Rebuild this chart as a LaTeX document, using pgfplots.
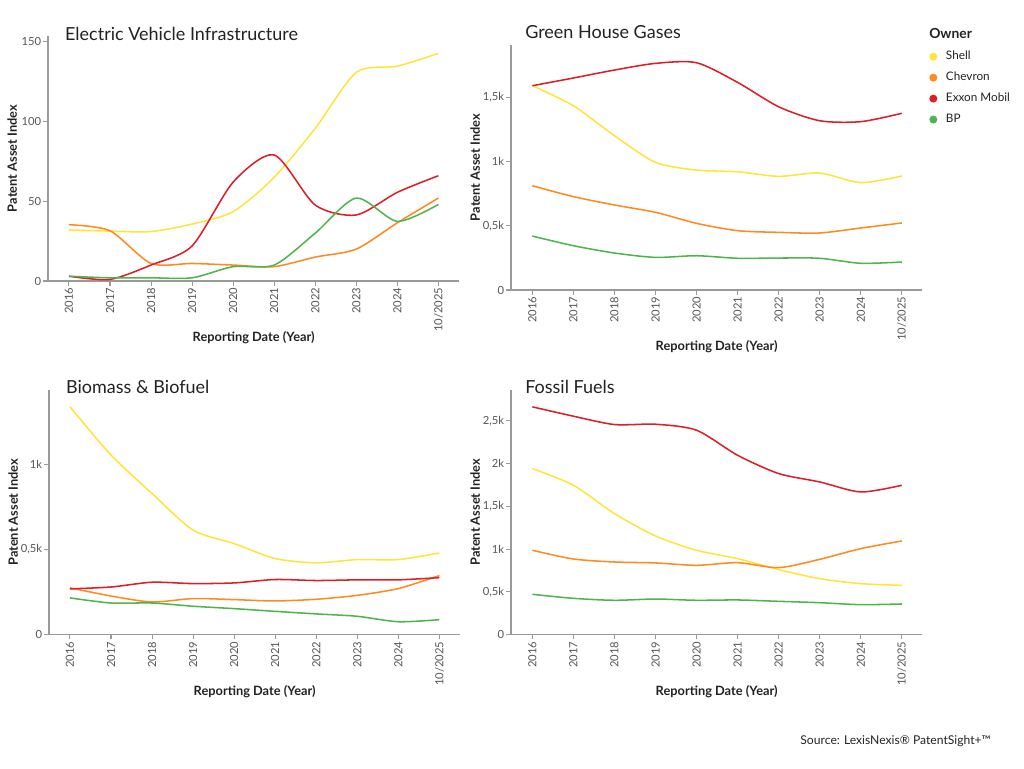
\documentclass[border=0pt]{standalone}
\usepackage{pgfplots}
\usepackage{pgfplotstable}
\pgfplotsset{compat=1.18}
\usepackage{fontspec}
\setmainfont{Lato}
\definecolor{shellc}{HTML}{FFE53B}
\definecolor{chevc}{HTML}{FF8A1E}
\definecolor{exxc}{HTML}{DC1E28}
\definecolor{bpc}{HTML}{4FB34F}
\definecolor{axisgray}{HTML}{9A9A9A}
\definecolor{tickgray}{HTML}{555555}
\definecolor{titlec}{HTML}{222222}

\pgfplotstableread{
x shell chevron exxon bp
0 32 35.3 3 3
1 31.3 31.5 1 2
2 31 11 10 2
3 35.7 11 22 2
4 43.5 10 62 9
5 65 9 79 10
6 95.7 15 47.6 30
7 130.8 20 41.4 52
8 134.7 36.5 55.6 37.4
9 142.7 52 66 48
}\evtab
\pgfplotstableread{
x shell chevron exxon bp
0 1591 812 1591 420
1 1435 727 1651 345
2 1202 662 1713 288
3 994 605 1765 254
4 934 519 1770 267
5 921 462 1617 247
6 885 449 1427 249
7 911 444 1318 247
8 836 483 1311 208
9 888 522 1376 218
}\ghgtab
\pgfplotstableread{
x shell chevron exxon bp
0 1339 275 269 216
1 1055 227 280 186
2 829 192 308 186
3 614 212 300 167
4 535 206 304 153
5 447 198 324 137
6 422 208 318 122
7 441 231 322 108
8 441 271 322 76
9 480 347 335 88
}\biotab
\pgfplotstableread{
x shell chevron exxon bp
0 1942 987 2664 472
1 1747 885 2555 425
2 1416 850 2457 402
3 1154 839 2461 417
4 987 811 2391 402
5 889 842 2098 406
6 761 784 1884 390
7 655 881 1786 374
8 597 1006 1669 351
9 577 1096 1747 359
}\fostab

\pgfplotsset{
  panel/.style={
    scale only axis,
    width=308.5pt, height=183.75pt,
    axis lines*=left,
    axis line style={draw=axisgray, line width=1pt},
    every tick/.style={draw=axisgray, line width=0.8pt},
    tick align=outside, major tick length=3.5pt,
    xmin=-0.51, xmax=9.51, ymin=0,
    xtick={0,...,9},
    xticklabels={2016,2017,2018,2019,2020,2021,2022,2023,2024,10/2025},
    xticklabel style={rotate=90, anchor=east, font=\fontsize{8.4}{9}\selectfont, text=tickgray, inner sep=1.5pt},
    yticklabel style={font=\fontsize{8.4}{9}\selectfont, text=tickgray, inner sep=1.5pt},
    xlabel={Reporting Date (Year)}, ylabel={Patent Asset Index},
    xlabel style={at={(axis description cs:0.5,-0.248)}, anchor=base, font=\fontsize{9.6}{11}\selectfont\bfseries, text=titlec},
    ylabel style={at={(axis description cs:-0.087,0.5)}, anchor=center, font=\fontsize{9.6}{11}\selectfont\bfseries, text=titlec},
    every axis title shift=0pt,
    title style={anchor=base west, yshift=0pt, font=\fontsize{13.5}{16}\selectfont, text=titlec, inner sep=0pt},
    clip=false,
    every axis plot/.append style={smooth, tension=0.45, line width=1.15pt},
  },
}

\begin{document}
\begin{tikzpicture}
\path[use as bounding box] (0,0) rectangle (768pt,-576pt);

% Electric Vehicle Infrastructure
\begin{axis}[panel, at={(36pt,-210.75pt)}, anchor=south west,
  ymax=153.6, ytick={0,50,100,150}, yticklabels={0,50,100,150},
  title={Electric Vehicle Infrastructure},
  title style={at={(axis description cs:0.041,0.981)}}]
\addplot[shellc] table[x=x,y=shell]{\evtab};
\addplot[chevc] table[x=x,y=chevron]{\evtab};
\addplot[exxc] table[x=x,y=exxon]{\evtab};
\addplot[bpc] table[x=x,y=bp]{\evtab};
\end{axis}

% Green House Gases
\begin{axis}[panel, at={(383.25pt,-217.5pt)}, anchor=south west,
  xmin=-0.52, xmax=9.5,
  ymax=1908, ytick={0,500,1000,1500}, yticklabels={0,{0,5k},1k,{1,5k}},
  title={Green House Gases},
  title style={at={(axis description cs:0.034,1.027)}},
  legend style={at={(axis description cs:1.017,0.973)}, anchor=north west, draw=none, fill=none,
    inner sep=0pt, outer sep=0pt, row sep=8pt,
    font=\fontsize{8.8}{10}\selectfont, text=titlec,
    nodes={inner sep=0pt, text height=6.2pt, text depth=1.5pt},
    /tikz/every even column/.append style={column sep=0pt}},
  legend cell align=left,
  legend image code/.code={\path[draw=none,fill=none] (0pt,-3pt) rectangle (12.5pt,3pt); \fill[#1,draw=none] (3pt,0pt) circle (3pt);}]
\addplot[shellc] table[x=x,y=shell]{\ghgtab};
\addlegendentry{Shell}
\addplot[chevc] table[x=x,y=chevron]{\ghgtab};
\addlegendentry{Chevron}
\addplot[exxc] table[x=x,y=exxon]{\ghgtab};
\addlegendentry{Exxon Mobil}
\addplot[bpc] table[x=x,y=bp]{\ghgtab};
\addlegendentry{BP}
\end{axis}

% Biomass & Biofuel
\begin{axis}[panel, at={(36.75pt,-476pt)}, anchor=south west,
  ymax=1439, ytick={0,500,1000}, yticklabels={0,{0,5k},1k},
  title={Biomass \& Biofuel},
  title style={at={(axis description cs:0.041,0.985)}}]
\addplot[shellc] table[x=x,y=shell]{\biotab};
\addplot[chevc] table[x=x,y=chevron]{\biotab};
\addplot[exxc] table[x=x,y=exxon]{\biotab};
\addplot[bpc] table[x=x,y=bp]{\biotab};
\end{axis}

% Fossil Fuels
\begin{axis}[panel, at={(383.25pt,-476pt)}, anchor=south west,
  xmin=-0.52, xmax=9.5,
  ymax=2865, ytick={0,500,1000,1500,2000,2500}, yticklabels={0,{0,5k},1k,{1,5k},2k,{2,5k}},
  title={Fossil Fuels},
  title style={at={(axis description cs:0.034,0.985)}}]
\addplot[shellc] table[x=x,y=shell]{\fostab};
\addplot[chevc] table[x=x,y=chevron]{\fostab};
\addplot[exxc] table[x=x,y=exxon]{\fostab};
\addplot[bpc] table[x=x,y=bp]{\fostab};
\end{axis}

\node[anchor=base west, inner sep=0pt, font=\fontsize{10.4}{12}\selectfont\bfseries, text=titlec] at (696.75pt,-28.7pt) {Owner};
\node[anchor=base east, inner sep=0pt, font=\fontsize{9.1}{11}\selectfont, text=titlec] at (743.25pt,-558pt) {Source: LexisNexis® PatentSight+™};
\end{tikzpicture}
\end{document}
